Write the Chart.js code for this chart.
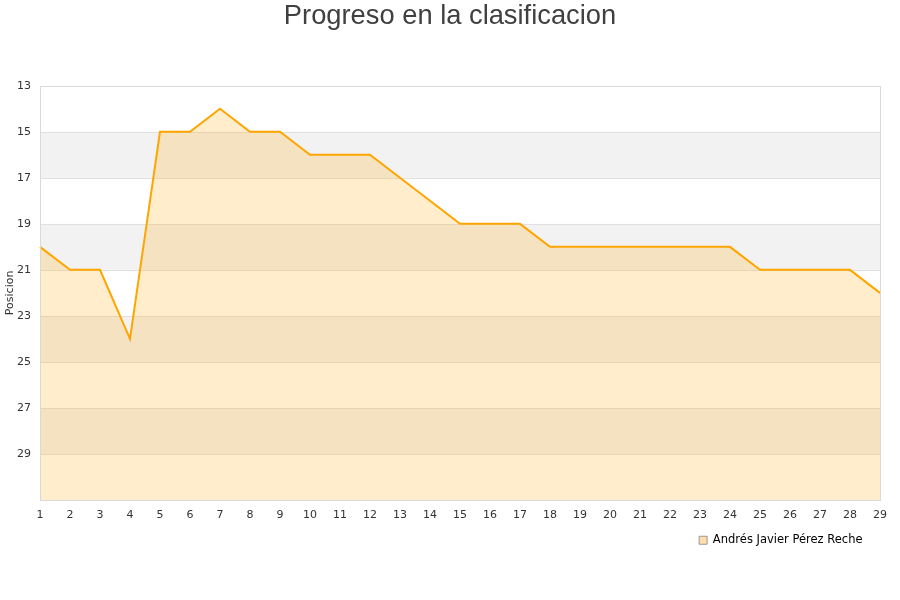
<!DOCTYPE html>
<html>
<head>
<meta charset="utf-8">
<script src="https://cdn.jsdelivr.net/npm/chart.js@4.4.1/dist/chart.umd.min.js"></script>
<style>
  html, body { margin: 0; padding: 0; background: #fff; }
  #wrap { width: 900px; height: 600px; }
</style>
</head>
<body>
<div id="wrap"><canvas id="chart"></canvas></div>
<script>
// jornadas y posiciones
const jornadas = [1,2,3,4,5,6,7,8,9,10,11,12,13,14,15,16,17,18,19,20,21,22,23,24,25,26,27,28,29];
const posiciones = [20,21,21,24,15,15,14,15,15,16,16,16,17,18,19,19,19,20,20,20,20,20,20,20,21,21,21,21,22];
const jugador = 'Andrés Javier Pérez Reche';
const posMin = 13;
const posMax = 31;
const bandasGris = [[15,17],[19,21],[23,25],[27,29]];

const fillColor = 'rgba(255,165,0,0.2)';

// bandas alternas + borde del area
const bandsPlugin = {
  id: 'bands',
  afterLayout(chart) {
    // titulo centrado en todo el canvas
    if (chart.titleBlock) {
      chart.titleBlock.left = 0;
      chart.titleBlock.right = chart.width;
    }
    // leyenda un poco mas a la izquierda
    if (chart.legend) chart.legend.right -= 3;
  },
  beforeDatasetsDraw(chart) {
    const ctx = chart.ctx, a = chart.chartArea, y = chart.scales.y;
    ctx.save();
    ctx.fillStyle = '#f2f2f2';
    bandasGris.forEach(b => {
      const y1 = y.getPixelForValue(b[0]), y2 = y.getPixelForValue(b[1]);
      ctx.fillRect(a.left, Math.min(y1, y2), a.right - a.left, Math.abs(y2 - y1));
    });
    ctx.strokeStyle = '#e0e0e0';
    ctx.lineWidth = 1;
    y.ticks.forEach(t => {
      const py = Math.round(y.getPixelForValue(t.value)) + 0.5;
      ctx.beginPath(); ctx.moveTo(a.left, py); ctx.lineTo(a.right, py); ctx.stroke();
    });
    ctx.restore();
  },
  afterDatasetsDraw(chart) {
    const ctx = chart.ctx, a = chart.chartArea;
    ctx.save();
    ctx.strokeStyle = '#d9d9d9';
    ctx.lineWidth = 1;
    ctx.strokeRect(Math.round(a.left) + 0.5, Math.round(a.top) + 0.5, Math.round(a.right - a.left), Math.round(a.bottom - a.top));
    ctx.restore();
  }
};

new Chart(document.getElementById('chart'), {
  type: 'line',
  data: {
    labels: jornadas,
    datasets: [{
      label: jugador,
      data: posiciones,
      borderColor: '#ffa500',
      borderWidth: 2,
      backgroundColor: fillColor,
      fill: { value: posMax },
      pointRadius: 0,
      tension: 0
    }]
  },
  options: {
    responsive: true,
    maintainAspectRatio: false,
    animation: false,
    layout: { padding: { left: 4, right: 20, bottom: 44 } },
    plugins: {
      title: {
        display: true,
        text: 'Progreso en la clasificacion',
        color: '#404040',
        font: { family: 'Liberation Sans', size: 27.3, weight: 'normal' },
        padding: { top: 0.5, bottom: 52.5 }
      },
      legend: {
        position: 'bottom',
        align: 'end',
        labels: {
          color: '#222',
          font: { family: 'DejaVu Sans', size: 11.5 },
          boxWidth: 8,
          boxHeight: 8,
          padding: 14.5,
          generateLabels(chart) {
            return chart.data.datasets.map((d, i) => ({
              text: d.label,
              fillStyle: 'rgba(255,222,170,1)',
              strokeStyle: '#999',
              lineWidth: 1,
              datasetIndex: i
            }));
          }
        }
      },
      tooltip: { enabled: false }
    },
    scales: {
      x: {
        grid: { display: false, drawTicks: false },
        border: { display: false },
        afterFit(scale) { scale.height = 20; },
        ticks: {
          color: '#333',
          font: { family: 'DejaVu Sans', size: 11 },
          maxRotation: 0,
          autoSkip: false,
          padding: 9
        }
      },
      y: {
        reverse: true,
        min: posMin,
        max: posMax,
        grid: { display: false, drawTicks: false },
        border: { display: false },
        afterFit(scale) { scale.width = 36; },
        title: {
          display: true,
          text: 'Posicion',
          color: '#333',
          font: { family: 'DejaVu Sans', size: 11 },
          padding: 0
        },
        ticks: {
          stepSize: 2,
          color: '#333',
          font: { family: 'DejaVu Sans', size: 11 },
          padding: 9,
          callback: v => (v === posMax ? '' : v)
        }
      }
    }
  },
  plugins: [bandsPlugin]
});
</script>
</body>
</html>
